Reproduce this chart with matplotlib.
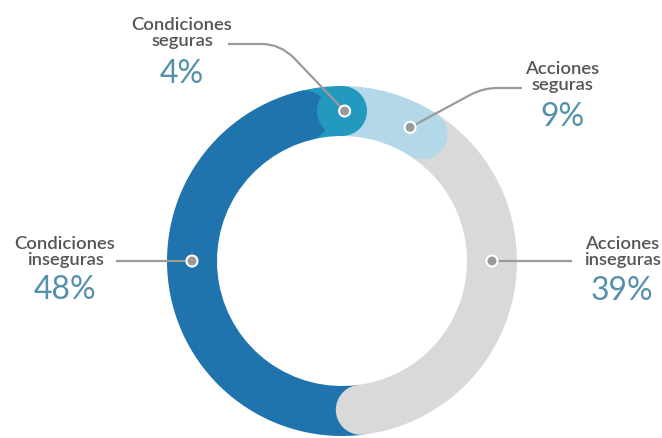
import matplotlib
matplotlib.use('Agg')
import matplotlib.pyplot as plt
from matplotlib.patches import Wedge, Circle, PathPatch
from matplotlib.path import Path
import numpy as np

plt.rcParams['font.family'] = ['Lato', 'DejaVu Sans']

# data, clockwise from 12 o'clock
labels = ['Acciones\nseguras', 'Acciones\ninseguras', 'Condiciones\ninseguras', 'Condiciones\nseguras']
values = [9, 39, 48, 4]
colors = ['#b3d8ea', '#d9d9d9', '#1f74ad', '#2399c0']

W, H = 662, 438
fig = plt.figure(figsize=(W / 100, H / 100), dpi=100)
ax = fig.add_axes([0, 0, 1, 1])
ax.set_xlim(0, W)
ax.set_ylim(0, H)
ax.set_aspect('equal')
ax.axis('off')

cx, cy = 342, H - 261
r_out, ring = 175, 50
r_mid = r_out - ring / 2

cum = np.concatenate([[0], np.cumsum(values)]) / sum(values)


def ang(frac):
    return 90 - frac * 360


def pt(a_deg, r=r_mid):
    a = np.radians(a_deg)
    return cx + r * np.cos(a), cy + r * np.sin(a)


# ring pieces
for i, v in enumerate(values):
    ax.add_patch(Wedge((cx, cy), r_out, ang(cum[i + 1]), ang(cum[i]),
                       width=ring, facecolor=colors[i], edgecolor='none', zorder=1))
# rounded ends on top
for i, v in enumerate(values):
    ax.add_patch(Circle(pt(ang(cum[i + 1])), ring / 2, facecolor=colors[i],
                        edgecolor='none', zorder=2))

line_col = '#9a9a9a'
lab_col = '#555555'
pct_col = '#5590ab'

# label anchors: dot angle on ring, text centre (px), leader path (px)
dot_angles = [63, 0, 180, 89]
text_pos = [(562, 77), (622, 252), (65, 252), (182, 33)]
pct_pos = [(562, 117), (622, 291), (65, 290), (182, 74)]

for i in range(4):
    dx, dy = pt(dot_angles[i])
    if i == 0:
        verts = [(dx, dy), (470, H - 95), (483, H - 88), (497, H - 88), (522, H - 88)]
        codes = [Path.MOVETO, Path.LINETO, Path.CURVE3, Path.CURVE3, Path.LINETO]
    elif i == 1:
        verts = [(dx, dy), (572, dy)]
        codes = [Path.MOVETO, Path.LINETO]
    elif i == 2:
        verts = [(dx, dy), (116, dy)]
        codes = [Path.MOVETO, Path.LINETO]
    else:
        verts = [(dx, dy), (294, H - 58), (280, H - 44), (262, H - 44), (228, H - 44)]
        codes = [Path.MOVETO, Path.LINETO, Path.CURVE3, Path.CURVE3, Path.LINETO]
    ax.add_patch(PathPatch(Path(verts, codes), facecolor='none', edgecolor=line_col,
                           lw=1.6, zorder=3))
    ax.add_patch(Circle((dx, dy), 5.5, facecolor=line_col, edgecolor='white',
                        lw=1.5, zorder=4))
    tx, ty = text_pos[i]
    ax.text(tx, H - ty, labels[i], ha='center', va='center', fontsize=13.3,
            fontweight='semibold', color=lab_col, linespacing=1.0)
    px, py = pct_pos[i]
    ax.text(px, H - py, f'{values[i]}%', ha='center', va='center', fontsize=23,
            color=pct_col)

fig.savefig('out.png', dpi=100)
